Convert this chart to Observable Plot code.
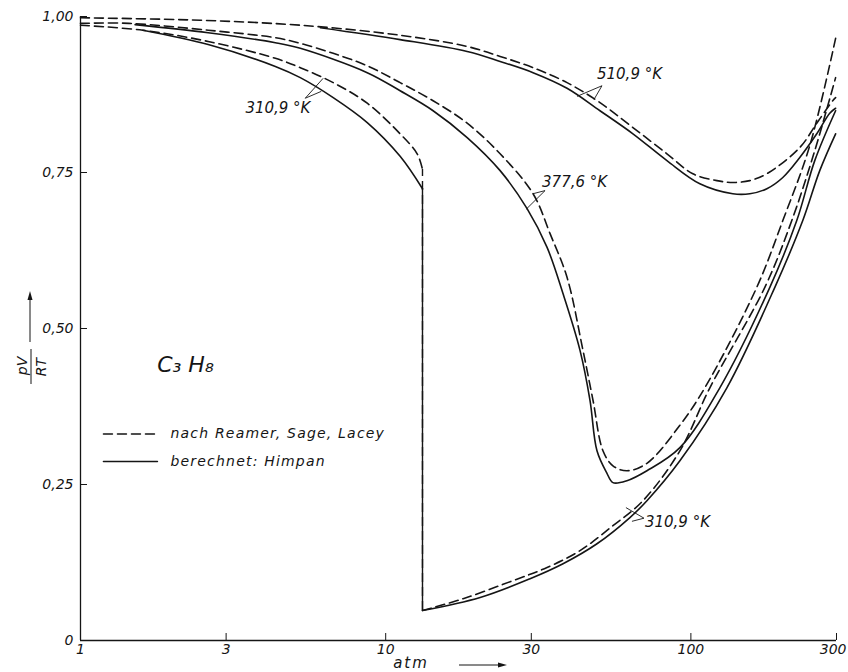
<!DOCTYPE html>
<html>
<head>
<meta charset="utf-8">
<script src="https://cdn.jsdelivr.net/npm/d3@7"></script>
<script src="https://cdn.jsdelivr.net/npm/@observablehq/plot@0.6"></script>
<style>
  html, body { margin: 0; padding: 0; background: #fff; }
</style>
</head>
<body>
<div id="chart"></div>
<script>
// ---- axes ----
const xTicks = [1, 3, 10, 30, 100, 300];
const xTickLabels = ["1", "3", "10", "30", "100", "300"];
const yTicks = [0, 0.25, 0.5, 0.75, 1];
const yTickLabels = ["0", "0,25", "0,50", "0,75", "1,00"];

// ---- 510,9 K ----
const p510Exp = [1, 2.47, 5.25, 11.15, 18.49, 23.71, 30.4, 39.28, 50.36, 64.58, 83.46, 101.5, 121.7, 137.2, 156, 177.4, 227.4, 258.5, 291.6, 298];
const z510Exp = [0.998, 0.994, 0.986, 0.970, 0.952, 0.936, 0.918, 0.894, 0.862, 0.822, 0.780, 0.748, 0.737, 0.734, 0.737, 0.748, 0.790, 0.829, 0.865, 0.870];
const p510Calc = [6.11, 11.15, 18.49, 23.71, 30.4, 39.28, 50.36, 64.58, 83.46, 107, 137.2, 156, 177.4, 200.1, 227.4, 258.5, 285.1, 298];
const z510Calc = [0.982, 0.963, 0.944, 0.928, 0.910, 0.885, 0.849, 0.812, 0.769, 0.732, 0.716, 0.716, 0.724, 0.742, 0.774, 0.812, 0.845, 0.853];

// ---- 377,6 K ----
const p377Exp = [1, 1.44, 2.62, 4.35, 5.25, 6.73, 8.70, 11.15, 14.30, 18.49, 23.71, 30.40, 34.56, 39.28, 44.3, 47.78, 51.51, 55.54, 61.72, 71.78, 92.04, 111.1, 164.4, 200.1, 245.2, 298];
const z377Exp = [0.989, 0.989, 0.978, 0.966, 0.957, 0.941, 0.921, 0.894, 0.865, 0.829, 0.780, 0.716, 0.652, 0.582, 0.465, 0.385, 0.304, 0.280, 0.272, 0.284, 0.345, 0.405, 0.566, 0.673, 0.793, 0.965];
const p377Calc = [1.51, 2.62, 4.35, 5.25, 8.70, 11.15, 14.30, 18.49, 23.71, 29.06, 33.79, 38.1, 43.32, 46.71, 49.24, 53.09, 55.54, 61.72, 71.78, 92.04, 124.4, 181.4, 222.3, 254.6, 298];
const z377Calc = [0.987, 0.974, 0.958, 0.949, 0.910, 0.881, 0.849, 0.806, 0.753, 0.692, 0.630, 0.556, 0.465, 0.385, 0.304, 0.268, 0.253, 0.256, 0.272, 0.309, 0.405, 0.566, 0.673, 0.769, 0.849];

// ---- 310,9 K (gas branch, saturation, liquid branch) ----
const p311ExpGas = [1, 1.60, 2.62, 4.35, 5.25, 6.73, 8.70, 11.15, 12.68, 13.2];
const z311ExpGas = [0.986, 0.978, 0.960, 0.933, 0.918, 0.894, 0.861, 0.812, 0.780, 0.755];
const p311CalcGas = [1.60, 2.62, 4.35, 5.25, 6.73, 8.70, 11.15, 13.2];
const z311CalcGas = [0.978, 0.955, 0.920, 0.902, 0.870, 0.830, 0.776, 0.724];
const p311ExpLiq = [13.2, 17.94, 26.15, 33.79, 43.32, 55.54, 69.65, 92.04, 115.4, 174.7, 214.1, 254.6, 298];
const z311ExpLiq = [0.048, 0.067, 0.096, 0.117, 0.144, 0.184, 0.224, 0.304, 0.405, 0.566, 0.673, 0.785, 0.902];
const p311CalcLiq = [13.2, 20.39, 29.72, 38.11, 49.24, 63.13, 71.78, 92.04, 131.2, 188.4, 232.6, 264.4, 298];
const z311CalcLiq = [0.048, 0.069, 0.099, 0.123, 0.155, 0.197, 0.224, 0.288, 0.405, 0.566, 0.673, 0.753, 0.812];
const satP = [13.2];

// ---- annotations ----
const labelText = ["510,9 °K", "377,6 °K", "310,9 °K", "310,9 °K"];
const labelP = [49.24, 32.54, 3.47, 70.7];
const labelZ = [0.908, 0.735, 0.853, 0.189];
const leaderP1 = [51.13, 51.13, 33.28, 33.28, 5.45, 5.45, 70.19, 70.19];
const leaderZ1 = [0.889, 0.889, 0.721, 0.721, 0.869, 0.869, 0.196, 0.196];
const leaderP2 = [42.36, 48.14, 30.40, 28.84, 6.24, 6.15, 61.26, 64.1];
const leaderZ2 = [0.872, 0.867, 0.716, 0.691, 0.901, 0.880, 0.213, 0.191];

const chemLabel = ["C₃ H₈"];
const chemP = [2.207];
const chemZ = [0.441];

const legendLabels = ["nach Reamer, Sage, Lacey", "berechnet: Himpan"];
const legendZ = [0.331, 0.287];
const legendLineP = [1.189, 1.787];
const legendTextP = [1.971];

// ---- helpers ----
const rows = (p, z) => p.map((v, i) => ({p: v, z: z[i]}));
const ink = "#151515";
const dash = "9,5";

const lineOpts = {x: "p", y: "z", curve: "catmull-rom", stroke: ink, strokeWidth: 1.6};
const dashOpts = {...lineOpts, strokeDasharray: dash};

const chart = Plot.plot({
  width: 848,
  height: 672,
  marginLeft: 80,
  marginRight: 12,
  marginTop: 16,
  marginBottom: 32,
  style: {fontFamily: "'DejaVu Sans', sans-serif", fontStyle: "italic", fontSize: "14px", background: "#fff", color: ink},
  x: {type: "log", domain: [1, 300]},
  y: {domain: [0, 1]},
  marks: [
    // axis lines and inward ticks
    Plot.ruleY([0], {x1: 1, x2: 300, stroke: ink, strokeWidth: 1.3}),
    Plot.ruleX([1], {y1: 0, y2: 1, stroke: ink, strokeWidth: 1.3}),
    Plot.tickX(xTicks.slice(1), {x: d => d, insetTop: 617, stroke: ink, strokeWidth: 1}),
    Plot.tickY(yTicks.slice(1), {y: d => d, insetRight: 749, stroke: ink, strokeWidth: 1}),
    Plot.axisX({ticks: xTicks, tickFormat: d => xTickLabels[xTicks.indexOf(d)], tickSize: 0, tickPadding: 4, fontSize: 14, label: null, fill: ink}),
    Plot.axisY({ticks: yTicks, tickFormat: d => yTickLabels[yTicks.indexOf(d)], tickSize: 0, tickPadding: 7, fontSize: 14, label: null, fill: ink}),

    // 510,9 K
    Plot.line(rows(p510Exp, z510Exp), dashOpts),
    Plot.line(rows(p510Calc, z510Calc), lineOpts),
    // 377,6 K
    Plot.line(rows(p377Exp, z377Exp), dashOpts),
    Plot.line(rows(p377Calc, z377Calc), lineOpts),
    // 310,9 K
    Plot.line(rows(p311ExpGas, z311ExpGas), dashOpts),
    Plot.line(rows(p311CalcGas, z311CalcGas), lineOpts),
    Plot.ruleX(satP, {y1: z311ExpLiq[0], y2: z311ExpGas[z311ExpGas.length - 1], stroke: ink, strokeWidth: 1.4, strokeDasharray: dash}),
    Plot.ruleX(satP, {y1: z311CalcLiq[0], y2: z311CalcGas[z311CalcGas.length - 1], stroke: ink, strokeWidth: 1.4}),
    Plot.line(rows(p311ExpLiq, z311ExpLiq), dashOpts),
    Plot.line(rows(p311CalcLiq, z311CalcLiq), lineOpts),

    // leader lines and curve labels
    Plot.link(leaderP1, {x1: (d, i) => leaderP1[i], y1: (d, i) => leaderZ1[i], x2: (d, i) => leaderP2[i], y2: (d, i) => leaderZ2[i], stroke: ink, strokeWidth: 0.9}),
    Plot.text(labelText, {x: (d, i) => labelP[i], y: (d, i) => labelZ[i], text: d => d, textAnchor: "start", fontSize: 15, fill: ink}),

    // substance
    Plot.text(chemLabel, {x: (d, i) => chemP[i], y: (d, i) => chemZ[i], text: d => d, fontSize: 22, fill: ink}),

    // legend
    Plot.line(rows(legendLineP, [legendZ[0], legendZ[0]]), {x: "p", y: "z", stroke: ink, strokeWidth: 1.5, strokeDasharray: dash}),
    Plot.line(rows(legendLineP, [legendZ[1], legendZ[1]]), {x: "p", y: "z", stroke: ink, strokeWidth: 1.5}),
    Plot.text(legendLabels, {x: legendTextP[0], y: (d, i) => legendZ[i], text: d => d, textAnchor: "start", fontSize: 14, fill: ink})
  ]
});

document.getElementById("chart").appendChild(chart);

const svg = d3.select(chart);
// tick label size
svg.selectAll('g[aria-label="x-axis tick label"], g[aria-label="y-axis tick label"]').attr("font-size", 14);
svg.selectAll('g[aria-label="x-axis tick label"] text, g[aria-label="y-axis tick label"] text').attr("font-size", 14);
// keep the last x label inside the picture, as in the original
svg.selectAll('g[aria-label="x-axis tick label"] text')
  .filter(function () { return this.textContent === xTickLabels[xTickLabels.length - 1]; })
  .attr("text-anchor", "end").attr("dx", 10);
// letter spacing like the technical lettering of the original
svg.selectAll("text").filter(function () { return legendLabels.includes(this.textContent); }).attr("letter-spacing", 1.2);

// axis titles with arrows
const g = svg.append("g").attr("fill", ink).attr("font-style", "italic").attr("font-family", "'DejaVu Sans', sans-serif");
g.append("text").attr("transform", "translate(27,366) rotate(-90)").attr("text-anchor", "middle").attr("font-size", 14).text("pV");
g.append("line").attr("x1", 31).attr("x2", 31).attr("y1", 349).attr("y2", 384).attr("stroke", ink).attr("stroke-width", 1);
g.append("text").attr("transform", "translate(46,367) rotate(-90)").attr("text-anchor", "middle").attr("font-size", 14).text("RT");
g.append("line").attr("x1", 30).attr("x2", 30).attr("y1", 342).attr("y2", 298).attr("stroke", ink).attr("stroke-width", 1);
g.append("path").attr("d", "M30,291 L27.5,300 L32.5,300 Z");

g.append("text").attr("x", 411).attr("y", 668).attr("font-size", 15).attr("letter-spacing", 2).text("atm");
g.append("line").attr("x1", 459).attr("x2", 500).attr("y1", 665).attr("y2", 665).attr("stroke", ink).attr("stroke-width", 1);
g.append("path").attr("d", "M507,665 L498,662.5 L498,667.5 Z");
</script>
</body>
</html>
